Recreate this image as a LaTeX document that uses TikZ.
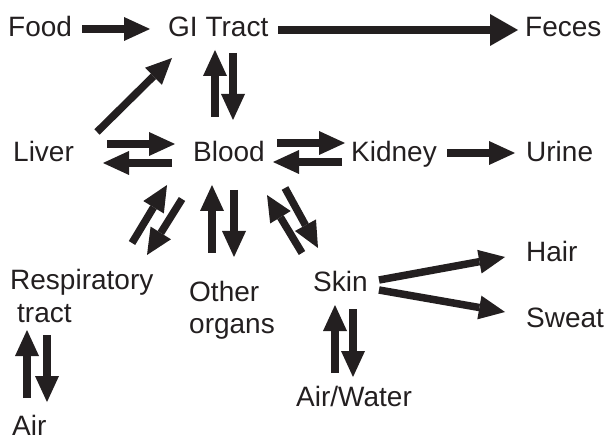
\documentclass[tikz,border=0pt]{standalone}
\usepackage{fontspec}
\setmainfont{Liberation Sans}
\usetikzlibrary{arrows.meta,calc}
\definecolor{ink}{HTML}{231F20}
\begin{document}
\begin{tikzpicture}[x=1bp,y=-1bp,
  lbl/.style={anchor=base west,inner sep=0pt,text=ink,font=\fontsize{28bp}{32bp}\selectfont},
  arr/.style={draw=ink,line width=7.5bp,-{Triangle[length=26bp,width=24bp,line width=0pt]}},
  bigarr/.style={draw=ink,line width=8.5bp,-{Triangle[length=28bp,width=32bp,line width=0pt]}}]
\useasboundingbox (0,0) rectangle (609,438);
% nodes
\node[lbl] (food) at (8,37) {Food};
\node[lbl] (gi) at (168,37) {GI Tract};
\node[lbl] (feces) at (525,37) {Feces};
\node[lbl] (liver) at (13,162) {Liver};
\node[lbl] (blood) at (193,162) {Blood};
\node[lbl] (kidney) at (351,162) {Kidney};
\node[lbl] (urine) at (526,162) {Urine};
\node[lbl] (resp) at (10,290) {Respiratory};
\node[lbl] (tract) at (17,322) {tract};
\node[lbl] (other) at (189,302) {Other};
\node[lbl] (organs) at (189,333) {organs};
\node[lbl] (skin) at (313,292) {Skin};
\node[lbl] (hair) at (526,262) {Hair};
\node[lbl] (sweat) at (526,327) {Sweat};
\node[lbl] (airwater) at (296,406) {Air/Water};
\node[lbl] (air) at (12,435) {Air};
% connectors
\draw[arr] ($(food.base west)+(74,-8)$) -- ($(gi.base west)+(-18,-8)$);
\draw[bigarr] ($(gi.base west)+(110,-7)$) -- ($(feces.base west)+(-7,-7)$);
\draw[arr] ($(liver.base west)+(84,-30)$) -- ($(gi.base west)+(4,21)$);
% GI <-> Blood
\draw[arr] ($(blood.base west)+(22,-45)$) -- ($(gi.base west)+(47,13)$);
\draw[arr] ($(gi.base west)+(65,16)$) -- ($(blood.base west)+(40,-42)$);
% Liver <-> Blood
\draw[arr] ($(liver.base west)+(94,-18)$) -- ($(blood.base west)+(-18,-18)$);
\draw[arr] ($(blood.base west)+(-21,1)$) -- ($(liver.base west)+(90,1)$);
% Blood <-> Kidney
\draw[arr] ($(blood.base west)+(84,-19)$) -- ($(kidney.base west)+(-6,-19)$);
\draw[arr] ($(kidney.base west)+(-9,0)$) -- ($(blood.base west)+(80,0)$);
% Kidney -> Urine
\draw[arr] ($(kidney.base west)+(96,-9)$) -- ($(urine.base west)+(-11,-9)$);
% Resp <-> Blood
\draw[arr] ($(resp.base west)+(122,-47)$) -- ($(blood.base west)+(-26,23)$);
\draw[arr] ($(blood.base west)+(-11,37)$) -- ($(resp.base west)+(137,-35)$);
% Other <-> Blood
\draw[arr] ($(other.base west)+(23,-49)$) -- ($(blood.base west)+(19,23)$);
\draw[arr] ($(blood.base west)+(41,28)$) -- ($(other.base west)+(45,-45)$);
% Skin <-> Blood
\draw[arr] ($(skin.base west)+(-11,-39)$) -- ($(blood.base west)+(74,33)$);
\draw[arr] ($(blood.base west)+(92,26)$) -- ($(skin.base west)+(5,-44)$);
% Skin -> Hair, Sweat
\draw[arr] ($(skin.base west)+(66,-12)$) -- ($(hair.base west)+(-21,-5)$);
\draw[arr] ($(skin.base west)+(66,-2)$) -- ($(sweat.base west)+(-21,-15)$);
% Skin <-> Air/Water
\draw[arr] ($(airwater.base west)+(39,-33)$) -- ($(skin.base west)+(22,13)$);
\draw[arr] ($(skin.base west)+(40,17)$) -- ($(airwater.base west)+(57,-29)$);
% Resp <-> Air
\draw[arr] ($(air.base west)+(15,-37)$) -- ($(tract.base west)+(10,8)$);
\draw[arr] ($(tract.base west)+(30,13)$) -- ($(air.base west)+(35,-33)$);
\end{tikzpicture}
\end{document}
